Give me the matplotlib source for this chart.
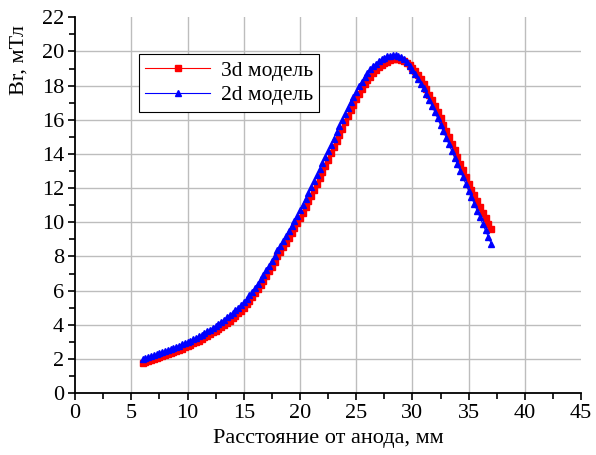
import matplotlib
matplotlib.use('Agg')
import matplotlib.pyplot as plt
from matplotlib.ticker import MultipleLocator

plt.rcParams['font.family'] = ['Liberation Serif', 'DejaVu Serif']

# расстояние от анода, мм (шаг 0.25)
x_mm = [
    6.00, 6.25, 6.50, 6.75, 7.00, 7.25, 7.50, 7.75, 8.00, 8.25, 8.50, 8.75,
    9.00, 9.25, 9.50, 9.75, 10.00, 10.25, 10.50, 10.75, 11.00, 11.25, 11.50, 11.75,
    12.00, 12.25, 12.50, 12.75, 13.00, 13.25, 13.50, 13.75, 14.00, 14.25, 14.50, 14.75,
    15.00, 15.25, 15.50, 15.75, 16.00, 16.25, 16.50, 16.75, 17.00, 17.25, 17.50, 17.75,
    18.00, 18.25, 18.50, 18.75, 19.00, 19.25, 19.50, 19.75, 20.00, 20.25, 20.50, 20.75,
    21.00, 21.25, 21.50, 21.75, 22.00, 22.25, 22.50, 22.75, 23.00, 23.25, 23.50, 23.75,
    24.00, 24.25, 24.50, 24.75, 25.00, 25.25, 25.50, 25.75, 26.00, 26.25, 26.50, 26.75,
    27.00, 27.25, 27.50, 27.75, 28.00, 28.25, 28.50, 28.75, 29.00, 29.25, 29.50, 29.75,
    30.00, 30.25, 30.50, 30.75, 31.00, 31.25, 31.50, 31.75, 32.00, 32.25, 32.50, 32.75,
    33.00, 33.25, 33.50, 33.75, 34.00, 34.25, 34.50, 34.75, 35.00, 35.25, 35.50, 35.75,
    36.00, 36.25, 36.50, 36.75, 37.00,
]

# 3d модель, мТл
br_3d = [
    1.78, 1.83, 1.89, 1.94, 2.00, 2.06, 2.11, 2.17, 2.23, 2.29, 2.35, 2.41,
    2.47, 2.54, 2.61, 2.68, 2.75, 2.83, 2.91, 2.99, 3.07, 3.16, 3.26, 3.35,
    3.45, 3.55, 3.66, 3.77, 3.88, 4.00, 4.12, 4.25, 4.38, 4.52, 4.67, 4.83,
    5.00, 5.19, 5.39, 5.61, 5.85, 6.09, 6.33, 6.58, 6.85, 7.12, 7.40, 7.69,
    8.00, 8.26, 8.53, 8.81, 9.10, 9.38, 9.67, 9.96, 10.25, 10.57, 10.89, 11.22,
    11.55, 11.89, 12.24, 12.59, 12.95, 13.31, 13.67, 14.04, 14.40, 14.76, 15.13, 15.49,
    15.85, 16.20, 16.55, 16.89, 17.22, 17.53, 17.81, 18.07, 18.31, 18.53, 18.73, 18.91,
    19.07, 19.20, 19.32, 19.41, 19.48, 19.53, 19.56, 19.55, 19.51, 19.43, 19.32, 19.19,
    19.03, 18.83, 18.61, 18.36, 18.08, 17.78, 17.47, 17.14, 16.80, 16.45, 16.09, 15.72,
    15.35, 14.98, 14.60, 14.22, 13.84, 13.44, 13.04, 12.64, 12.26, 11.91, 11.57, 11.23,
    10.90, 10.57, 10.24, 9.92, 9.60,
]

# 2d модель, мТл
br_2d = [
    1.98, 2.04, 2.10, 2.16, 2.22, 2.28, 2.34, 2.40, 2.46, 2.52, 2.58, 2.65,
    2.71, 2.78, 2.85, 2.92, 2.99, 3.07, 3.15, 3.23, 3.32, 3.41, 3.51, 3.61,
    3.72, 3.83, 3.94, 4.06, 4.18, 4.30, 4.43, 4.56, 4.70, 4.85, 5.00, 5.16,
    5.32, 5.52, 5.72, 5.93, 6.15, 6.40, 6.66, 6.93, 7.20, 7.47, 7.75, 8.05,
    8.35, 8.63, 8.91, 9.20, 9.50, 9.79, 10.09, 10.39, 10.70, 11.03, 11.36, 11.70,
    12.05, 12.40, 12.75, 13.10, 13.45, 13.81, 14.17, 14.54, 14.90, 15.26, 15.62, 15.97,
    16.33, 16.68, 17.02, 17.35, 17.65, 17.95, 18.24, 18.51, 18.75, 18.96, 19.14, 19.29,
    19.42, 19.54, 19.64, 19.71, 19.76, 19.80, 19.80, 19.76, 19.68, 19.54, 19.37, 19.16,
    18.92, 18.66, 18.39, 18.12, 17.85, 17.51, 17.16, 16.81, 16.45, 16.08, 15.70, 15.33,
    14.95, 14.56, 14.18, 13.79, 13.40, 13.01, 12.63, 12.24, 11.85, 11.46, 11.08, 10.69,
    10.30, 9.91, 9.52, 9.14, 8.75,
]

x_grid = [5, 10, 15, 20, 25, 30, 35, 40]
y_grid = [2, 4, 6, 8, 10, 12, 14, 16, 18, 20]

fig = plt.figure(figsize=(5.96, 4.55), dpi=100)
ax = fig.add_axes([0.126, 0.136, 0.849, 0.826])

for gx in x_grid:
    ax.axvline(gx, color='#bdbdbd', linewidth=1.0, zorder=0)
for gy in y_grid:
    ax.axhline(gy, color='#bdbdbd', linewidth=1.0, zorder=0)

ax.plot(x_mm, br_3d, 's-', color='red', markersize=3.8, linewidth=0.8,
        label='3d модель', zorder=3)
ax.plot(x_mm, br_2d, '^-', color='blue', markersize=4.3, linewidth=0.8,
        label='2d модель', zorder=4)

ax.set_xlim(0, 45)
ax.set_ylim(0, 22)
ax.xaxis.set_major_locator(MultipleLocator(5))
ax.xaxis.set_minor_locator(MultipleLocator(2.5))
ax.yaxis.set_major_locator(MultipleLocator(2))
ax.yaxis.set_minor_locator(MultipleLocator(1))
ax.tick_params(which='major', direction='out', length=5, width=1.2, labelsize=16, pad=3)
ax.tick_params(which='minor', direction='out', length=4, width=1.2)

ax.spines['top'].set_visible(False)
ax.spines['right'].set_visible(False)
ax.spines['left'].set_linewidth(1.3)
ax.spines['bottom'].set_linewidth(1.3)

ax.set_xlabel('Расстояние от анода, мм', fontsize=16, labelpad=4)
fig.text(19 / 596, 1 - 60 / 455, 'Br, мТл', rotation=90, fontsize=16,
         ha='center', va='center')

leg = ax.legend(loc='upper left', bbox_to_anchor=(0.105, 0.93), fontsize=15.5,
                frameon=True, fancybox=False, edgecolor='black', framealpha=1,
                handlelength=3.0, borderpad=0.3, labelspacing=0.2, handletextpad=0.5)
leg.get_frame().set_linewidth(0.8)

fig.savefig('out.png', dpi=100)
